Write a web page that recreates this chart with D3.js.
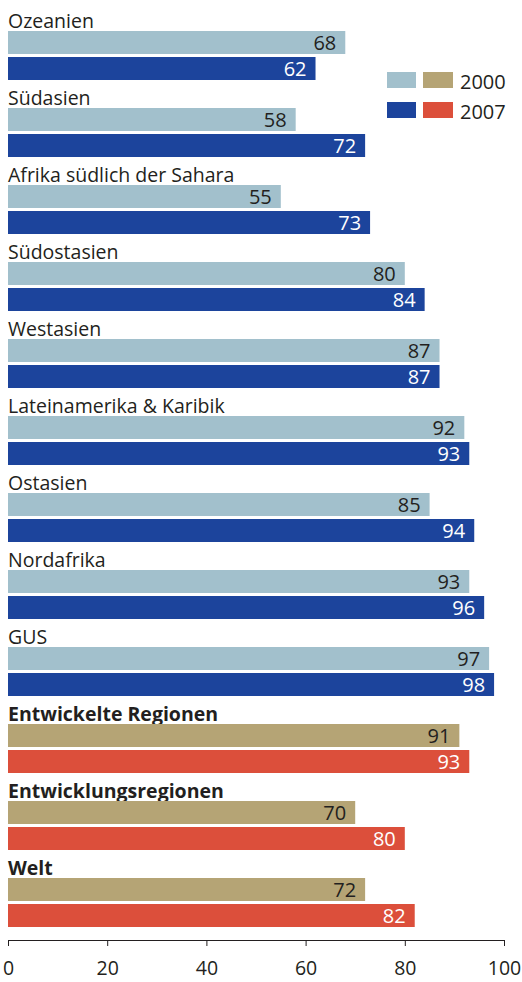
<!DOCTYPE html>
<html>
<head>
<meta charset="utf-8">
<script src="https://cdn.jsdelivr.net/npm/d3@7"></script>
<style>
  body { margin: 0; background: #fff; }
  text { font-family: "Open Sans", "Noto Sans", sans-serif; }
</style>
</head>
<body>
<svg width="522" height="982"></svg>
<script>
// data
var regions = ["Ozeanien", "Südasien", "Afrika südlich der Sahara", "Südostasien", "Westasien",
    "Lateinamerika & Karibik", "Ostasien", "Nordafrika", "GUS",
    "Entwickelte Regionen", "Entwicklungsregionen", "Welt"];
var values2000 = [68, 58, 55, 80, 87, 92, 85, 93, 97, 91, 70, 72];
var values2007 = [62, 72, 73, 84, 87, 93, 94, 96, 98, 93, 80, 82];
var aggregates = ["Entwickelte Regionen", "Entwicklungsregionen", "Welt"];
var years = ["2000", "2007"];
var xTicks = [0, 20, 40, 60, 80, 100];

var svg = d3.select("svg");

var x = d3.scaleLinear().domain([0, 100]).range([8, 504]);
var y = d3.scaleBand().domain(regions).range([8, 8 + 77 * regions.length]);
var yInner = d3.scaleBand().domain(years).range([23, 72]).paddingInner(0.1154);

// colours: [2000, 2007] for regions and for aggregates
var colReg = ["#a2c0cc", "#1c449c"];
var colAgg = ["#b5a475", "#dc4f3b"];

var rows = regions.map(function (r, i) {
    return {name: r, v: [values2000[i], values2007[i]], agg: aggregates.indexOf(r) >= 0};
});

var g = svg.append("g").selectAll("g")
    .data(rows)
    .enter().append("g")
    .attr("transform", function (d) { return "translate(0," + y(d.name) + ")"; });

g.append("text")
    .attr("x", 8)
    .attr("y", 19.5)
    .style("font-size", "19.5px")
    .style("font-weight", function (d) { return d.agg ? "bold" : "normal"; })
    .attr("fill", "#231f20")
    .text(function (d) { return d.name; });

years.forEach(function (yr, k) {
    g.append("rect")
        .attr("x", x(0))
        .attr("y", yInner(yr))
        .attr("width", function (d) { return x(d.v[k]) - x(0); })
        .attr("height", yInner.bandwidth())
        .attr("fill", function (d) { return d.agg ? colAgg[k] : colReg[k]; });

    g.append("text")
        .attr("x", function (d) { return x(d.v[k]) - 9; })
        .attr("y", yInner(yr) + yInner.bandwidth() / 2)
        .attr("dy", "0.36em")
        .attr("text-anchor", "end")
        .style("font-size", "20px")
        .attr("fill", k === 0 ? "#231f20" : "#ffffff")
        .text(function (d) { return d.v[k]; });
});

// legend
var legend = svg.append("g").attr("transform", "translate(387,72)");
years.forEach(function (yr, k) {
    var lg = legend.append("g").attr("transform", "translate(0," + (k * 30) + ")");
    lg.append("rect").attr("width", 29).attr("height", 16).attr("fill", colReg[k]);
    lg.append("rect").attr("x", 36).attr("width", 30).attr("height", 16).attr("fill", colAgg[k]);
    lg.append("text")
        .attr("x", 73)
        .attr("y", 17)
        .style("font-size", "20px")
        .attr("fill", "#231f20")
        .text(yr);
});

// axis
var axis = svg.append("g")
    .attr("transform", "translate(0,940)")
    .call(d3.axisBottom(x).tickValues(xTicks).tickSize(6).tickPadding(15).tickSizeOuter(0));
axis.select(".domain").attr("stroke", "#231f20");
axis.selectAll(".tick line").attr("stroke", "#231f20");
axis.selectAll(".tick text")
    .style("font-size", "19.5px")
    .style("font-family", "'Open Sans', 'Noto Sans', sans-serif")
    .attr("fill", "#231f20");
</script>
</body>
</html>
